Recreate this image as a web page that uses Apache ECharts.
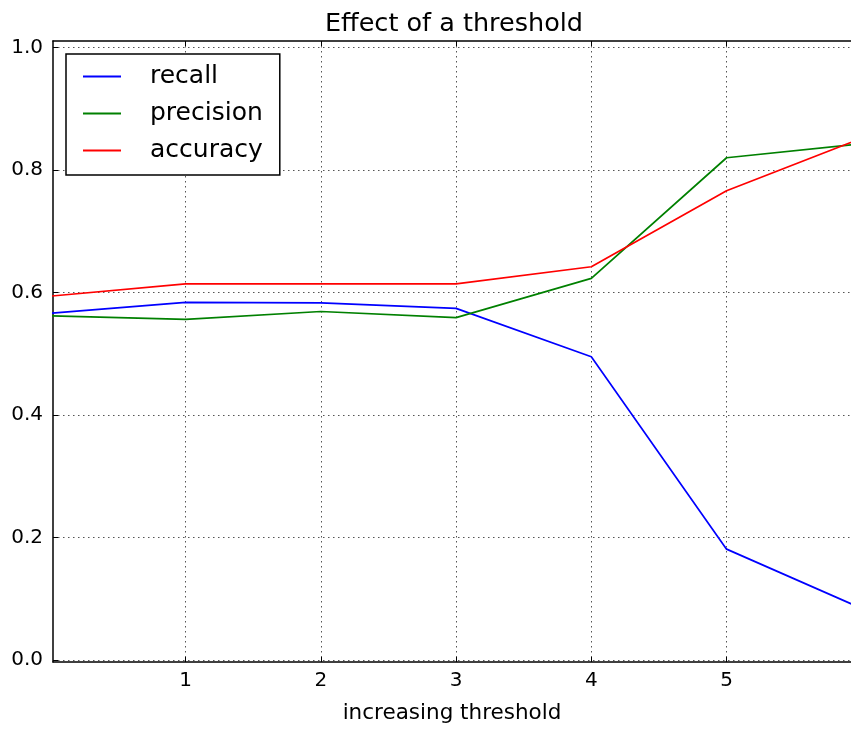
<!DOCTYPE html>
<html>
<head>
<meta charset="utf-8">
<script src="https://cdn.jsdelivr.net/npm/echarts@6/dist/echarts.min.js"></script>
<style>
  html, body { margin: 0; padding: 0; background: #fff; }
  #chart { width: 851px; height: 729px; }
</style>
</head>
<body>
<div id="chart"></div>
<script>
// Threshold steps on the x axis
const thresholds = [0, 1, 2, 3, 4, 5, 6];
// Metric values at each threshold
const recall    = [0.566, 0.584, 0.583, 0.574, 0.495, 0.181, 0.084];
const precision = [0.562, 0.556, 0.569, 0.559, 0.623, 0.820, 0.843];
const accuracy  = [0.594, 0.614, 0.614, 0.614, 0.642, 0.766, 0.852];
// Tick labels
const xTicks = [1, 2, 3, 4, 5];
const yTicks = [0.0, 0.2, 0.4, 0.6, 0.8, 1.0];

const FONT = 'DejaVu Sans';
const X_MIN = 0.02, X_MAX = 5.92;

const pairs = vals => thresholds.map((t, i) => [t, vals[i]]);

const dotted = { color: '#555', width: 1, type: [1.5, 3.5] };
const spine = { show: true, onZero: false, lineStyle: { color: '#000', width: 1.5 } };
const innerTick = { show: true, inside: true, length: 5, lineStyle: { color: '#000' } };

const chart = echarts.init(document.getElementById('chart'), null, { renderer: 'canvas' });

chart.setOption({
  animation: false,
  backgroundColor: '#fff',
  title: {
    text: 'Effect of a threshold',
    left: 325, top: 11, padding: 0,
    textStyle: { fontFamily: FONT, fontSize: 25.5, fontWeight: 'normal', color: '#000' }
  },
  legend: {
    orient: 'vertical',
    left: 66, top: 54,
    padding: [10, 17, 12, 17],
    icon: 'rect',
    itemWidth: 38, itemHeight: 1.8, itemGap: 12,
    backgroundColor: '#fff',
    borderColor: '#000', borderWidth: 1.5, borderRadius: 0,
    textStyle: { fontFamily: FONT, fontSize: 25, color: '#000', lineHeight: 25, padding: [0, 0, 0, 24] },
    data: ['recall', 'precision', 'accuracy']
  },
  grid: [
    // frame spanning the spines, carries the vertical grid lines
    { left: 53, right: 0, top: 41, bottom: 66 },
    // value area spanning 0..1
    { left: 53, right: 0, top: 47.5, bottom: 69 }
  ],
  xAxis: [
    {
      type: 'value', gridIndex: 0, position: 'bottom', min: X_MIN, max: X_MAX,
      axisLine: spine,
      axisTick: Object.assign({ customValues: xTicks }, innerTick),
      axisLabel: { show: true, customValues: xTicks, fontFamily: FONT, fontSize: 20, color: '#000', margin: 9 },
      splitLine: { show: true, lineStyle: dotted },
      name: 'increasing threshold', nameLocation: 'middle', nameGap: 40,
      nameTextStyle: { fontFamily: FONT, fontSize: 21.5, color: '#000' }
    },
    {
      type: 'value', gridIndex: 0, position: 'top', min: X_MIN, max: X_MAX,
      axisLine: spine,
      axisTick: Object.assign({ customValues: xTicks }, innerTick),
      axisLabel: { show: false },
      splitLine: { show: false }
    },
    {
      type: 'value', gridIndex: 1, min: X_MIN, max: X_MAX, show: false,
      splitLine: { show: false }
    }
  ],
  yAxis: [
    {
      type: 'value', gridIndex: 0, position: 'left', min: 0, max: 1,
      axisLine: spine, axisTick: { show: false }, axisLabel: { show: false },
      splitLine: { show: false }
    },
    {
      type: 'value', gridIndex: 1, min: 0, max: 1, interval: 0.2,
      axisLine: { show: false },
      axisTick: innerTick,
      axisLabel: { fontFamily: FONT, fontSize: 20, color: '#000', margin: 10, formatter: v => v.toFixed(1) },
      splitLine: { show: true, lineStyle: dotted }
    }
  ],
  series: [
    { name: 'recall', type: 'line', xAxisIndex: 2, yAxisIndex: 1, data: pairs(recall),
      symbol: 'none', lineStyle: { color: '#0000ff', width: 1.7 }, itemStyle: { color: '#0000ff' } },
    { name: 'precision', type: 'line', xAxisIndex: 2, yAxisIndex: 1, data: pairs(precision),
      symbol: 'none', lineStyle: { color: '#008000', width: 1.7 }, itemStyle: { color: '#008000' } },
    { name: 'accuracy', type: 'line', xAxisIndex: 2, yAxisIndex: 1, data: pairs(accuracy),
      symbol: 'none', lineStyle: { color: '#ff0000', width: 1.7 }, itemStyle: { color: '#ff0000' } }
  ]
});
</script>
</body>
</html>
